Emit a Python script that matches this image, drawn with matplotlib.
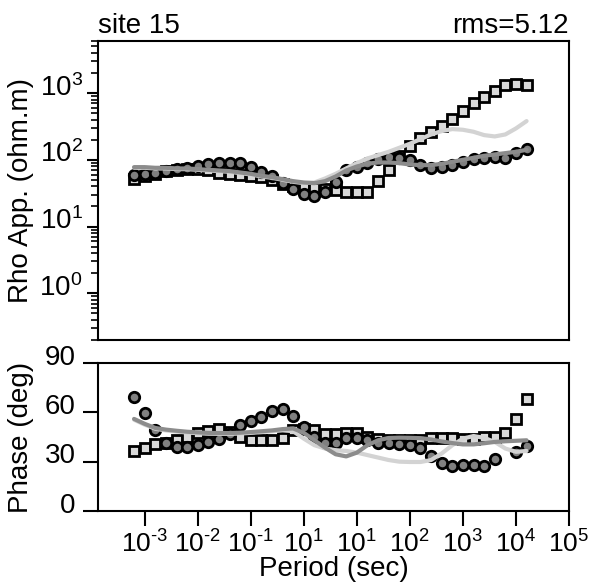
import matplotlib
matplotlib.use('Agg')
import matplotlib.pyplot as plt
from matplotlib import transforms

plt.rcParams['font.family'] = 'Liberation Sans'
plt.rcParams['mathtext.fontset'] = 'custom'
plt.rcParams['mathtext.rm'] = 'Liberation Sans'
plt.rcParams['mathtext.it'] = 'Liberation Sans'

nan = float('nan')

# log10 of period (sec)
log_period = [-3.2, -3.0, -2.8, -2.6, -2.4, -2.2, -2.0, -1.8, -1.6, -1.4,
              -1.2, -1.0, -0.8, -0.6, -0.4, -0.2, 0.0, 0.2, 0.4, 0.6,
              0.8, 1.0, 1.2, 1.4, 1.6, 1.8, 2.0, 2.2, 2.4, 2.6,
              2.8, 3.0, 3.2, 3.4, 3.6, 3.8, 4.0, 4.2]

# log10 apparent resistivity
rho_circ = [1.77, 1.79, 1.80, 1.83, 1.86, 1.88, 1.91, 1.93, 1.95, 1.95,
            1.95, 1.89, 1.82, 1.76, 1.65, 1.56, 1.49, 1.46, 1.52, 1.67,
            1.85, 1.89, 1.95, 2.01, 2.04, 2.02, 2.00, 1.92, 1.88, 1.89,
            1.92, 1.97, 2.01, 2.02, 2.04, 2.02, 2.10, 2.16]
rho_sq = [1.71, 1.76, 1.79, 1.83, 1.85, 1.86, 1.86, 1.84, 1.80, 1.78,
          1.77, 1.76, 1.74, 1.70, 1.64, 1.60, 1.57, 1.57, 1.56, 1.55,
          1.52, 1.52, 1.52, 1.68, 1.85, 2.05, 2.20, 2.32, 2.42, 2.50,
          2.61, 2.73, 2.85, 2.94, 3.03, 3.12, 3.13, 3.12]
rho_fit_dark = [1.89, 1.89, 1.88, 1.88, 1.87, 1.87, 1.86, 1.85, 1.84, 1.83,
                1.81, 1.79, 1.76, 1.74, 1.71, 1.68, 1.66, 1.65, 1.68, 1.75,
                1.84, 1.90, 1.94, 1.96, 1.96, 1.95, 1.93, 1.92, 1.92, 1.94,
                1.97, 2.00, 2.03, 2.06, 2.08, 2.10, 2.12, 2.15]
rho_fit_light = [1.88, 1.88, 1.87, 1.87, 1.86, 1.86, 1.85, 1.84, 1.83, 1.82,
                 1.80, 1.78, 1.75, 1.73, 1.70, 1.67, 1.65, 1.66, 1.72, 1.79,
                 1.87, 1.95, 2.02, 2.07, 2.12, 2.18, 2.24, 2.31, 2.38, 2.43,
                 2.46, 2.45, 2.42, 2.37, 2.35, 2.38, 2.47, 2.58]

# phase (deg)
ph_circ = [69.3, 59.6, 49.3, 41.4, 38.9, 38.9, 40.1, 42.0, 43.8, 46.8,
           52.3, 54.7, 57.2, 60.8, 62.0, 58.0, 51.0, 45.0, 41.3, 41.3,
           44.4, 44.4, 43.0, 41.5, 41.3, 40.7, 40.1, 38.3, 33.4, 29.2,
           27.4, 28.0, 28.0, 27.4, 31.6, nan, 35.9, 39.5]
ph_sq = [36.5, 38.3, 40.7, 41.3, 43.2, 45.0, 47.4, 48.6, 50.0, 48.0,
         45.0, 43.2, 43.2, 43.2, 44.4, 49.0, 50.0, 49.2, 46.8, 46.8,
         47.4, 47.4, 45.0, 43.8, 43.0, 43.0, 43.0, 43.0, 44.4, 44.4,
         44.4, 44.0, 44.0, 45.0, 45.0, 47.4, 56.0, 68.0]
ph_fit_dark = [56.0, 53.0, 50.5, 49.5, 48.8, 48.2, 47.8, 47.5, 47.4, 47.4,
               47.6, 48.0, 48.5, 49.0, 49.8, 50.2, 47.5, 43.0, 38.5, 34.5,
               33.2, 35.5, 40.0, 43.0, 44.4, 44.6, 44.5, 44.3, 43.5, 42.3,
               41.3, 40.5, 40.5, 41.2, 42.0, 42.4, 42.7, 43.0]
ph_fit_light = [55.5, 52.5, 50.0, 49.0, 48.3, 47.7, 47.3, 47.0, 46.9, 46.9,
                47.1, 47.5, 48.0, 48.5, 49.1, 48.5, 44.0, 40.0, 38.0, 37.0,
                36.5, 35.5, 34.0, 32.5, 31.0, 30.0, 29.8, 29.8, 31.0, 35.0,
                40.0, 44.0, 45.6, 44.5, 42.0, 38.0, 36.0, 36.5]

x_ticks = [1e-3, 1e-2, 1e-1, 1e0, 1e1, 1e2, 1e3, 1e4, 1e5]
x_labels = ['-3', '-2', '-1', '1', '1', '2', '3', '4', '5']
rho_ticks = [1e0, 1e1, 1e2, 1e3]
rho_labels = ['0', '1', '2', '3']
ph_ticks = [0, 30, 60, 90]

period = [10 ** v for v in log_period]
rc = [10 ** v for v in rho_circ]
rs = [10 ** v for v in rho_sq]
rd = [10 ** v for v in rho_fit_dark]
rl = [10 ** v for v in rho_fit_light]


def power_label(exp):
    # plain hyphen in the exponent, as in the original figure
    return r'$\mathregular{10^{%s}}$' % exp.replace('-', '\u2010')


fig = plt.figure(figsize=(5.92, 5.84), dpi=100)
ax1 = fig.add_axes([98 / 592, 1 - 340 / 584, 471 / 592, 299 / 584])
ax2 = fig.add_axes([98 / 592, 1 - 511 / 584, 471 / 592, 148 / 584])

circ_kw = dict(ls='none', marker='o', ms=7.5, mfc='#808080', mec='black', mew=2, zorder=2)
sq_kw = dict(ls='none', marker='s', ms=7.5, mfc='#d9d9d9', mec='black', mew=2, zorder=2)
light_kw = dict(color='#d3d3d3', lw=3, zorder=3, solid_capstyle='round')
dark_kw = dict(color='#8c8c8c', lw=3, zorder=4, solid_capstyle='round')

ax1.plot(period, rs, **sq_kw)
ax1.plot(period, rc, **circ_kw)
ax1.plot(period, rl, **light_kw)
ax1.plot(period, rd, **dark_kw)

ax2.plot(period, ph_sq, **sq_kw)
ax2.plot(period, ph_circ, **circ_kw)
ax2.plot(period, ph_fit_light, **light_kw)
ax2.plot(period, ph_fit_dark, **dark_kw)

for ax in (ax1, ax2):
    ax.set_xscale('log')
    ax.set_xlim(10 ** -3.88, 1e5)
    for s in ax.spines.values():
        s.set_linewidth(1.5)

ax1.set_yscale('log')
ax1.set_ylim(10 ** -0.7, 10 ** 3.78)
ax1.set_yticks(rho_ticks)
ax1.set_yticklabels([power_label(s) for s in rho_labels])
ax1.tick_params(axis='y', which='major', length=8, width=1.5, labelsize=20, pad=3)
ax1.tick_params(axis='y', which='minor', length=5, width=1.2)
ax1.tick_params(axis='x', which='both', bottom=False, labelbottom=False)
ax1.set_ylabel('Rho App. (ohm.m)', fontsize=20)
ax1.set_title('site 15', loc='left', fontsize=20, pad=6)
ax1.set_title('rms=5.12', loc='right', fontsize=20, pad=6)

ax2.set_ylim(0, 90)
ax2.set_yticks(ph_ticks)
ax2.tick_params(axis='y', length=11, width=1.5, labelsize=20, pad=5)
ax2.set_xticks(x_ticks)
ax2.set_xticklabels([power_label(s) for s in x_labels])
ax2.tick_params(axis='x', which='major', length=11, width=1.5, labelsize=19, pad=3)
ax2.tick_params(axis='x', which='minor', length=6, width=1.2)
ax2.set_ylabel('Phase (deg)', fontsize=20)
ax2.set_xlabel('Period (sec)', fontsize=20, labelpad=-1)

up = transforms.ScaledTranslation(0, 6 / 72, fig.dpi_scale_trans)
for lab in ax1.get_yticklabels() + ax2.get_yticklabels():
    lab.set_transform(lab.get_transform() + up)

ax1.yaxis.set_label_coords(-0.135, 0.5)
ax2.yaxis.set_label_coords(-0.135, 0.5)

fig.savefig('out.png', dpi=100)
